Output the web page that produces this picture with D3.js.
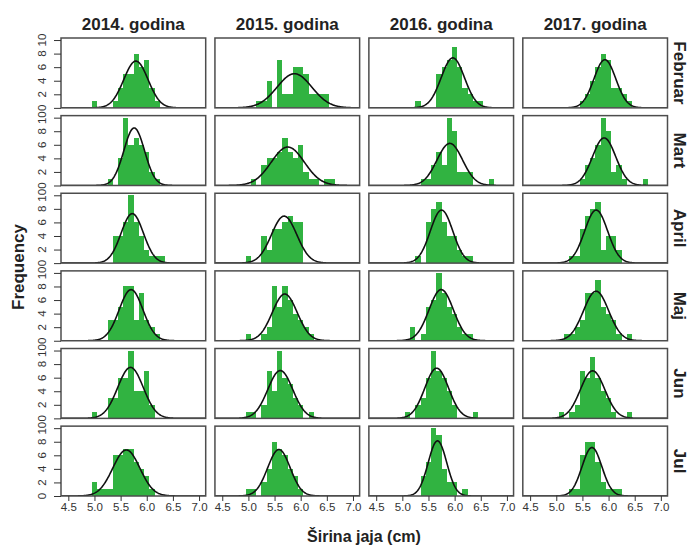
<!DOCTYPE html>
<html>
<head>
<meta charset="utf-8">
<script src="https://cdn.jsdelivr.net/npm/d3@7"></script>
<style>
  body { margin: 0; background: #fff; }
  text { font-family: "Liberation Sans", Arial, sans-serif; }
</style>
</head>
<body>
<div id="chart"></div>
<script>
const years = ["2014. godina", "2015. godina", "2016. godina", "2017. godina"];
const months = ["Februar", "Mart", "April", "Maj", "Jun", "Jul"];
const xTicks = [4.5, 5.0, 5.5, 6.0, 6.5, 7.0];
const yTicks = [0, 2, 4, 6, 8, 10];
const binWidth = 0.1;

// [bin centre (cm), frequency] -- one list per year, 2014..2017
const februar = [
  [[5.0,1],[5.4,1],[5.5,3],[5.6,5],[5.7,5],[5.8,8],[5.9,6],[6.0,7],[6.1,3],[6.2,1]],
  [[5.2,1],[5.3,1],[5.4,4],[5.6,7],[5.7,2],[5.8,2],[5.9,6],[6.0,6],[6.1,5],[6.2,2],[6.3,2],[6.4,2],[6.5,2]],
  [[5.3,1],[5.7,5],[5.8,6],[5.9,7],[6.0,9],[6.1,6],[6.2,3],[6.3,2],[6.4,1],[6.5,1]],
  [[5.5,1],[5.6,2],[5.7,4],[5.8,6],[5.9,8],[6.0,7],[6.1,3],[6.2,3],[6.3,2],[6.4,1]]
];
const mart = [
  [[5.3,1],[5.5,4],[5.6,10],[5.7,6],[5.8,7],[5.9,6],[6.0,5],[6.1,2],[6.2,1]],
  [[5.1,1],[5.3,3],[5.4,4],[5.5,4],[5.6,5],[5.7,7],[5.8,5],[5.9,4],[6.0,6],[6.1,2],[6.2,1],[6.3,1],[6.5,1],[6.6,1]],
  [[5.4,1],[5.5,1],[5.6,3],[5.7,5],[5.8,3],[5.9,10],[6.0,8],[6.1,2],[6.2,2],[6.3,2],[6.7,1]],
  [[5.5,1],[5.6,3],[5.7,4],[5.8,6],[5.9,10],[6.0,8],[6.1,2],[6.2,3],[6.3,1],[6.7,1]]
];
const april = [
  [[5.4,4],[5.5,4],[5.6,6],[5.7,10],[5.8,6],[5.9,4],[6.0,2],[6.1,1],[6.2,1],[6.3,1]],
  [[5.0,1],[5.3,4],[5.4,2],[5.5,5],[5.6,5],[5.7,6],[5.8,7],[5.9,6],[6.0,6]],
  [[5.3,1],[5.5,6],[5.6,8],[5.7,9],[5.8,6],[5.9,4],[6.0,4],[6.1,2],[6.2,1],[6.3,1]],
  [[5.3,1],[5.4,1],[5.5,5],[5.6,7],[5.7,8],[5.8,9],[5.9,2],[6.0,4],[6.1,4],[6.2,2]]
];
const maj = [
  [[5.3,3],[5.4,3],[5.5,5],[5.6,8],[5.7,8],[5.8,3],[5.9,7],[6.0,3],[6.1,2],[6.2,1]],
  [[5.0,1],[5.3,1],[5.4,2],[5.5,8],[5.6,5],[5.7,8],[5.8,6],[5.9,4],[6.0,3],[6.1,2],[6.2,1]],
  [[5.2,2],[5.4,1],[5.5,5],[5.6,6],[5.7,10],[5.8,7],[5.9,5],[6.0,4],[6.1,2],[6.2,1],[6.3,1]],
  [[5.2,1],[5.3,1],[5.4,2],[5.5,3],[5.6,7],[5.7,7],[5.8,9],[5.9,5],[6.0,4],[6.1,3],[6.2,1],[6.4,1]]
];
const jun = [
  [[5.0,1],[5.3,3],[5.4,3],[5.5,6],[5.6,6],[5.7,10],[5.8,4],[5.9,4],[6.0,7],[6.1,2]],
  [[5.0,1],[5.1,1],[5.3,2],[5.4,7],[5.5,4],[5.6,10],[5.7,6],[5.8,5],[5.9,3],[6.0,2],[6.2,1]],
  [[5.1,1],[5.3,2],[5.4,3],[5.5,6],[5.6,10],[5.7,7],[5.8,6],[5.9,4],[6.0,2],[6.4,1]],
  [[5.1,1],[5.3,1],[5.4,2],[5.5,7],[5.6,6],[5.7,9],[5.8,6],[5.9,4],[6.0,3],[6.1,1],[6.4,1]]
];
const jul = [
  [[5.0,2],[5.1,1],[5.2,1],[5.3,1],[5.4,6],[5.5,6],[5.6,7],[5.7,7],[5.8,5],[5.9,4],[6.0,3],[6.1,1]],
  [[5.0,1],[5.1,1],[5.3,2],[5.4,4],[5.5,8],[5.6,7],[5.7,6],[5.8,4],[5.9,3],[6.0,1]],
  [[5.4,3],[5.5,5],[5.6,10],[5.7,9],[5.8,4],[5.9,2],[6.0,2],[6.2,1]],
  [[5.3,1],[5.4,1],[5.5,6],[5.6,8],[5.7,8],[5.8,5],[5.9,2],[6.0,1],[6.1,1],[6.2,1]]
];
const panels = [februar, mart, april, maj, jun, jul];

const width = 691, height = 550;
const barColor = "#31b341";
const frameColor = "#4d4d4d";

const svg = d3.select("#chart").append("svg")
    .attr("width", width)
    .attr("height", height);

const col = d3.scaleBand().domain(d3.range(years.length)).range([61, 667.5]).paddingInner(0.06);
const row = d3.scaleBand().domain(d3.range(months.length)).range([38, 496]).paddingInner(0.1);
const pw = col.bandwidth(), ph = row.bandwidth();

const x = d3.scaleLinear().domain([4.36, 7.127]).range([0, pw]);
const y = d3.scaleLinear().domain([0, 10.3]).range([ph, 0]);

svg.append("clipPath").attr("id", "panel-clip")
  .append("rect").attr("width", pw).attr("height", ph);

// normal curve scaled to counts, from the binned values
function normalCurve(bins) {
    const n = d3.sum(bins, d => d[1]);
    const mean = d3.sum(bins, d => d[0] * d[1]) / n;
    const sd = Math.sqrt(d3.sum(bins, d => d[1] * (d[0] - mean) ** 2) / (n - 1));
    return d3.range(x.domain()[0], x.domain()[1], 0.01).map(v =>
        [v, n * binWidth * Math.exp(-0.5 * ((v - mean) / sd) ** 2) / (sd * Math.sqrt(2 * Math.PI))]);
}

const line = d3.line().x(d => x(d[0])).y(d => y(d[1]));

panels.forEach((month, r) => {
    month.forEach((bins, c) => {
        const g = svg.append("g").attr("transform", `translate(${col(c)},${row(r)})`);
        const inner = g.append("g").attr("clip-path", "url(#panel-clip)");

        inner.selectAll("rect")
            .data(bins)
            .join("rect")
                .attr("x", d => x(d[0] - binWidth / 2))
                .attr("width", d => x(d[0] + binWidth / 2) - x(d[0] - binWidth / 2))
                .attr("y", d => y(d[1]))
                .attr("height", d => y(0) - y(d[1]))
                .attr("fill", barColor)
                .attr("shape-rendering", "crispEdges");

        inner.append("path")
            .attr("d", line(normalCurve(bins)))
            .attr("fill", "none")
            .attr("stroke", "#111")
            .attr("stroke-width", 1.6);

        g.append("rect")
            .attr("width", pw)
            .attr("height", ph)
            .attr("fill", "none")
            .attr("stroke", frameColor)
            .attr("stroke-width", 1.5);

        if (c === 0) {
            const ax = g.append("g")
                .call(d3.axisLeft(y).tickValues(yTicks).tickSize(7).tickFormat(""));
            ax.select(".domain").remove();
            ax.selectAll("line").attr("stroke", "#333");
            g.selectAll(".ylab")
                .data(yTicks)
                .join("text")
                    .attr("class", "ylab")
                    .attr("transform", d => `translate(-15,${y(d)}) rotate(-90)`)
                    .attr("text-anchor", "middle")
                    .attr("font-size", 11.5)
                    .attr("fill", "#333")
                    .text(d => d);
        }

        if (r === months.length - 1) {
            const ax = g.append("g")
                .attr("transform", `translate(0,${ph})`)
                .call(d3.axisBottom(x).tickValues(xTicks).tickSize(5).tickPadding(2)
                    .tickFormat(d3.format(".1f")));
            ax.select(".domain").remove();
            ax.selectAll("line").attr("stroke", "#333");
            ax.selectAll("text")
                .attr("font-size", 11.5)
                .attr("fill", "#333")
                .attr("font-family", "'Liberation Sans', Arial, sans-serif");
        }
    });
});

svg.selectAll(".year")
    .data(years)
    .join("text")
        .attr("class", "year")
        .attr("x", (d, i) => col(i) + pw / 2)
        .attr("y", 30)
        .attr("text-anchor", "middle")
        .attr("font-size", 17)
        .attr("font-weight", "bold")
        .attr("fill", "#222")
        .text(d => d);

svg.selectAll(".month")
    .data(months)
    .join("text")
        .attr("class", "month")
        .attr("transform", (d, i) => `translate(674,${row(i) + ph / 2}) rotate(90)`)
        .attr("text-anchor", "middle")
        .attr("font-size", 17)
        .attr("font-weight", "bold")
        .attr("fill", "#222")
        .text(d => d);

svg.append("text")
    .attr("transform", "translate(24,267) rotate(-90)")
    .attr("text-anchor", "middle")
    .attr("font-size", 17)
    .attr("font-weight", "bold")
    .attr("fill", "#222")
    .text("Frequency");

svg.append("text")
    .attr("x", 364)
    .attr("y", 542)
    .attr("text-anchor", "middle")
    .attr("font-size", 16)
    .attr("font-weight", "bold")
    .attr("fill", "#222")
    .text("Širina jaja (cm)");
</script>
</body>
</html>
